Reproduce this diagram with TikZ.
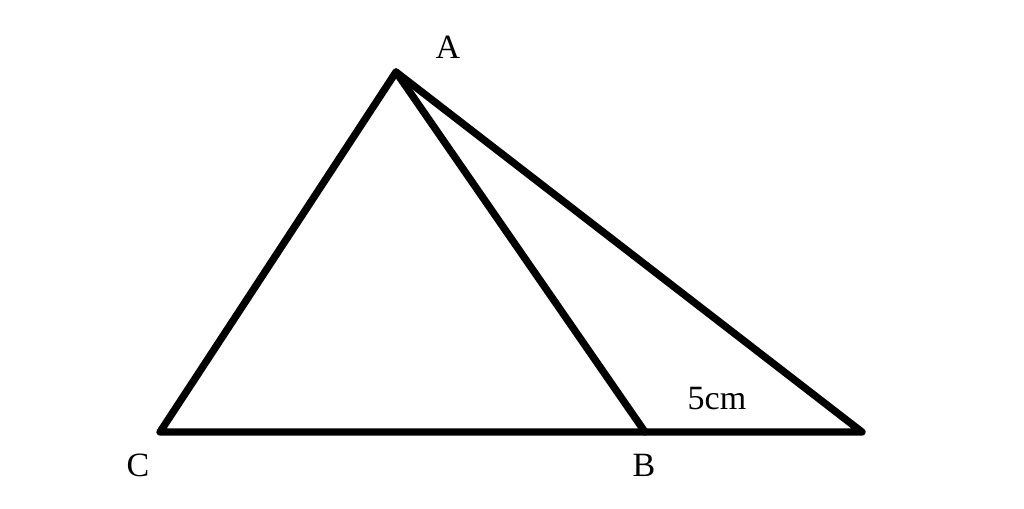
\documentclass[tikz,border=0pt]{standalone}
\usepackage{fontspec}
\setmainfont{Liberation Serif}
\begin{document}
\begin{tikzpicture}[x=0.75pt,y=-0.75pt,
  edge/.style={line width=5.5pt,line cap=round,line join=round},
  lbl/.style={font=\fontsize{25.5}{28}\selectfont,inner sep=0pt}]
\useasboundingbox (0,0) rectangle (1024,508);
\coordinate (A) at (396,72);
\coordinate (C) at (160,432);
\coordinate (B) at (645,432);
\coordinate (D) at (862,432);
\draw[edge] (C) -- (A) -- (D) -- (C);
\draw[edge] (A) -- (B);
\node[lbl] (la) at (448,47) {A};
\node[lbl] (lc) at (138,465) {C};
\node[lbl] (lb) at (644,465) {B};
\node[lbl] (l5) at (717,399) {5cm};
\end{tikzpicture}
\end{document}
